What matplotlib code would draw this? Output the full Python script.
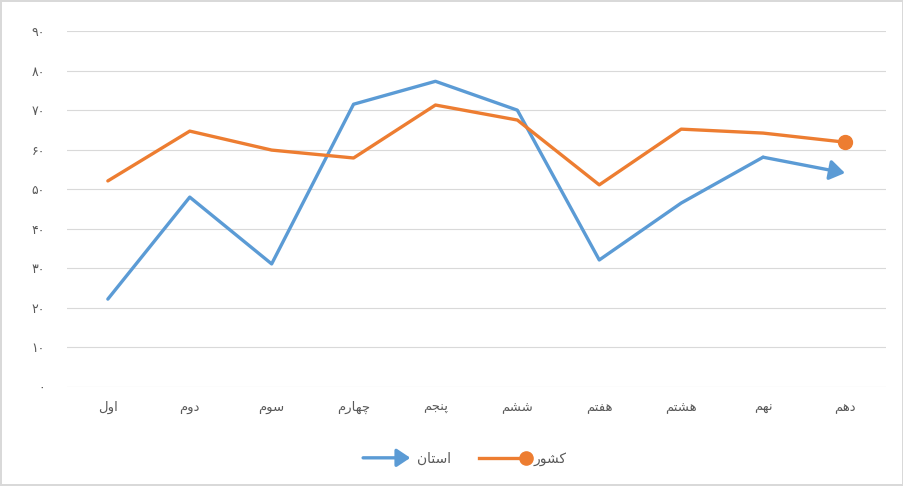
import matplotlib
matplotlib.use("Agg")
import matplotlib.pyplot as plt
from matplotlib.lines import Line2D
from matplotlib.patches import FancyArrowPatch
from matplotlib.legend_handler import HandlerBase
from matplotlib.ticker import FuncFormatter

# data
categories = ["اول", "دوم", "سوم", "چهارم", "پنجم", "ششم", "هفتم", "هشتم", "نهم", "دهم"]
ostan = [22.2, 48.0, 31.1, 71.5, 77.3, 70.0, 32.1, 46.5, 58.1, 54.1]
keshvar = [52.1, 64.7, 59.9, 57.9, 71.3, 67.5, 51.1, 65.2, 64.2, 61.9]
series_names = ["استان", "کشور"]
y_ticks = list(range(0, 91, 10))

BLUE = "#5b9bd5"
ORANGE = "#ed7d31"
TEXT = "#595959"
GRID = "#d9d9d9"
ARROW = "-|>,head_length=0.45,head_width=0.3"

# matplotlib has no arabic shaping, so pick presentation forms by hand
# (isolated, final, initial, medial)
FORMS = {
    "ا": (0xFE8D, 0xFE8E, None, None),
    "و": (0xFEED, 0xFEEE, None, None),
    "د": (0xFEA9, 0xFEAA, None, None),
    "ر": (0xFEAD, 0xFEAE, None, None),
    "ل": (0xFEDD, 0xFEDE, 0xFEDF, 0xFEE0),
    "م": (0xFEE1, 0xFEE2, 0xFEE3, 0xFEE4),
    "س": (0xFEB1, 0xFEB2, 0xFEB3, 0xFEB4),
    "ش": (0xFEB5, 0xFEB6, 0xFEB7, 0xFEB8),
    "ه": (0xFEE9, 0xFEEA, 0xFEEB, 0xFEEC),
    "ن": (0xFEE5, 0xFEE6, 0xFEE7, 0xFEE8),
    "ج": (0xFE9D, 0xFE9E, 0xFE9F, 0xFEA0),
    "ت": (0xFE95, 0xFE96, 0xFE97, 0xFE98),
    "ف": (0xFED1, 0xFED2, 0xFED3, 0xFED4),
    "پ": (0xFB56, 0xFB57, 0xFB58, 0xFB59),
    "چ": (0xFB7A, 0xFB7B, 0xFB7C, 0xFB7D),
    "ک": (0xFB8E, 0xFB8F, 0xFB90, 0xFB91),
}


def shape(word):
    out = []
    for i, c in enumerate(word):
        prev = word[i - 1] if i > 0 else None
        nxt = word[i + 1] if i + 1 < len(word) else None
        iso, fin, ini, med = FORMS[c]
        joins_prev = prev is not None and FORMS[prev][2] is not None
        joins_next = nxt is not None and ini is not None
        if joins_prev and joins_next:
            code = med
        elif joins_prev:
            code = fin
        elif joins_next:
            code = ini
        else:
            code = iso
        out.append(chr(code))
    return "".join(out)[::-1]


def persian_digits(v, pos=None):
    return str(int(round(v))).translate(str.maketrans("0123456789", "۰۱۲۳۴۵۶۷۸۹"))


class EndMarkHandler(HandlerBase):
    def __init__(self, kind):
        super().__init__()
        self.kind = kind

    def create_artists(self, legend, orig_handle, xdescent, ydescent,
                       width, height, fontsize, trans):
        y = height / 2 - ydescent
        x0, x1 = -xdescent, width - xdescent
        color = orig_handle.get_color()
        if self.kind == "arrow":
            arr = FancyArrowPatch((x0, y), (x1, y), arrowstyle=ARROW,
                                  mutation_scale=18, color=color, lw=2.4,
                                  transform=trans, shrinkA=0, shrinkB=0)
            return [arr]
        line = Line2D([x0, x1], [y, y], color=color, lw=2.4, transform=trans)
        dot = Line2D([x1], [y], marker="o", markersize=9.5, color=color,
                     transform=trans)
        return [line, dot]


plt.rcParams["font.family"] = ["DejaVu Sans"]

fig = plt.figure(figsize=(9.04, 4.86), dpi=100)
fig.patch.set_edgecolor(GRID)
fig.patch.set_linewidth(1.5)
ax = fig.add_axes([0.074, 0.204, 0.906, 0.732])

x = list(range(len(categories)))

# blue series with arrow head on the last segment
ax.plot(x[:-1], ostan[:-1], color=BLUE, lw=2.4, solid_capstyle="round",
        solid_joinstyle="round", zorder=3)
ax.annotate("", xy=(x[-1], ostan[-1]), xytext=(x[-2], ostan[-2]),
            arrowprops=dict(arrowstyle=ARROW, color=BLUE, lw=2.4,
                            mutation_scale=20, shrinkA=0, shrinkB=0),
            zorder=3)

# orange series with circle at the end
ax.plot(x, keshvar, color=ORANGE, lw=2.4, solid_capstyle="round",
        solid_joinstyle="round", zorder=4)
ax.plot(x[-1], keshvar[-1], marker="o", markersize=10, color=ORANGE, zorder=4)

ax.set_xlim(-0.5, len(categories) - 0.5)
ax.set_ylim(0, 90)
ax.set_yticks(y_ticks)
ax.yaxis.set_major_formatter(FuncFormatter(persian_digits))
ax.set_xticks(x)
ax.set_xticklabels([shape(c) for c in categories])
ax.grid(axis="y", color=GRID, lw=0.8)
ax.set_axisbelow(True)
for s in ax.spines.values():
    s.set_visible(False)
ax.tick_params(length=0, colors=TEXT, labelsize=9.5)
ax.tick_params(axis="x", pad=10)
ax.tick_params(axis="y", pad=16, labelsize=9)

h1 = Line2D([], [], color=BLUE)
h2 = Line2D([], [], color=ORANGE)
leg = fig.legend([h1, h2], [shape(n) for n in series_names],
                 handler_map={h1: EndMarkHandler("arrow"), h2: EndMarkHandler("dot")},
                 loc="center", bbox_to_anchor=(0.514, 0.056), ncol=2,
                 frameon=False, fontsize=10, handlelength=3.4, columnspacing=2.0,
                 handletextpad=0.5)
for t in leg.get_texts():
    t.set_color(TEXT)

fig.savefig("out.png", dpi=100)
